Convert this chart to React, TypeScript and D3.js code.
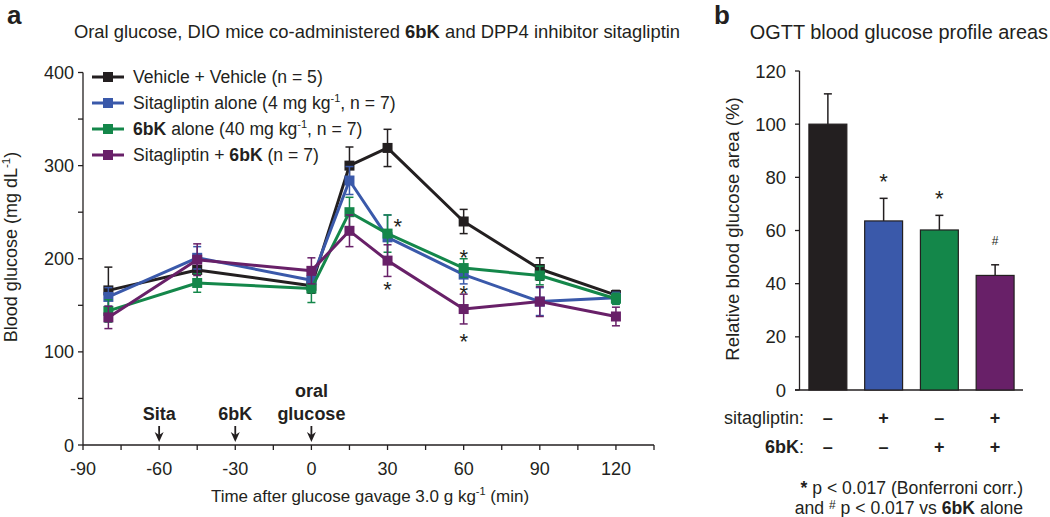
import React from "react";
import * as d3 from "d3";

// ---------- Panel a data ----------
const times = [-80, -45, 0, 15, 30, 60, 90, 120];
const seriesNames = ["Vehicle + Vehicle", "Sitagliptin alone", "6bK alone", "Sitagliptin + 6bK"];
const vehicleMean = [166, 188, 171, 300, 319, 240, 189, 161];
const vehicleErr = [25, 10, 8, 20, 20, 13, 12, 5];
const sitaMean = [159, 201, 177, 284, 223, 183, 154, 158];
const sitaErr = [10, 12, 10, 15, 24, 10, 15, 6];
const bkMean = [144, 174, 168, 250, 227, 190, 182, 157];
const bkErr = [12, 10, 15, 16, 20, 10, 10, 6];
const comboMean = [137, 199, 187, 230, 198, 146, 154, 138];
const comboErr = [12, 17, 14, 17, 17, 16, 16, 10];
const seriesColors = ["#231f20", "#3a59aa", "#14874a", "#682068"];
const yTicksA = [0, 100, 200, 300, 400];
const xTicksA = [-90, -60, -30, 0, 30, 60, 90, 120];

// asterisks (time, value position)
const starsA: [number, number][] = [
  [34, 240],
  [30, 172],
  [60, 207],
  [60, 168],
  [60, 116],
];

// ---------- Panel b data ----------
const barGroups = ["veh", "sita", "6bK", "combo"];
const barValues = [100, 63.6, 60.2, 43.1];
const barErrors = [11.4, 8.5, 5.5, 4.0];
const barMarks = ["", "*", "*", "#"];
const sitaSigns = ["\u2013", "+", "\u2013", "+"];
const bkSigns = ["\u2013", "\u2013", "+", "+"];
const yTicksB = [0, 20, 40, 60, 80, 100, 120];

const FONT = "'Liberation Sans', Arial, Helvetica, sans-serif";
const INK = "#231f20";

export default function App() {
  const means = [vehicleMean, sitaMean, bkMean, comboMean];
  const errs = [vehicleErr, sitaErr, bkErr, comboErr];

  // panel a scales
  const x = d3.scaleLinear().domain([-90, 135]).range([83, 654]);
  const y = d3.scaleLinear().domain([0, 400]).range([445, 72.5]);
  const line = d3
    .line<number>()
    .x((_, i) => x(times[i]))
    .y((d) => y(d));

  const xMinor = d3.range(-90, 136, 15);
  const yMinor = d3.range(0, 401, 50);

  // panel b scales
  const xb = d3.scaleBand<string>().domain(barGroups).range([800, 1023]).paddingInner(0.32).paddingOuter(0.16);
  const yb = d3.scaleLinear().domain([0, 120]).range([390, 71]);

  const arrows = [
    { t: -60, lines: ["Sita"] },
    { t: -30, lines: ["6bK"] },
    { t: 0, lines: ["oral", "glucose"] },
  ];

  return (
    <svg width={1050} height={517} style={{ position: "absolute", left: 0, top: 0, fontFamily: FONT }}>
      <rect width={1050} height={517} fill="#fff" />
      {/* Panel a */}
      <text x={7} y={24} fontSize={26} fontWeight="bold" fill={INK}>a</text>
      <text x={377} y={38} fontSize={18.4} textAnchor="middle" fill={INK}>
        Oral glucose, DIO mice co-administered <tspan fontWeight="bold">6bK</tspan> and DPP4 inhibitor sitagliptin
      </text>

      {/* y axis */}
      <line x1={83} x2={83} y1={y(400)} y2={y(0)} stroke={INK} strokeWidth={1.3} />
      {yMinor.map((v) => (
        <line key={"ym" + v} x1={78} x2={83} y1={y(v)} y2={y(v)} stroke={INK} strokeWidth={1.3} />
      ))}
      {yTicksA.map((v) => (
        <text key={"yt" + v} x={74} y={y(v) + 6.5} fontSize={18} textAnchor="end" fill={INK}>{v}</text>
      ))}
      <text transform={`translate(17,247) rotate(-90)`} fontSize={18} textAnchor="middle" fill={INK}>
        Blood glucose (mg dL<tspan dy={-7} fontSize={11.5}>-1</tspan><tspan dy={7}>)</tspan>
      </text>

      {/* x axis */}
      <line x1={x(-90)} x2={x(135)} y1={445} y2={445} stroke={INK} strokeWidth={1.3} />
      {xMinor.map((t) => (
        <line key={"xm" + t} x1={x(t)} x2={x(t)} y1={445} y2={450} stroke={INK} strokeWidth={1.3} />
      ))}
      {xTicksA.map((t) => (
        <text key={"xt" + t} x={x(t)} y={475} fontSize={18} textAnchor="middle" fill={INK}>{t}</text>
      ))}
      <text x={370} y={502} fontSize={17} textAnchor="middle" fill={INK}>
        Time after glucose gavage 3.0 g kg<tspan dy={-7} fontSize={11}>-1</tspan><tspan dy={7}> (min)</tspan>
      </text>

      {/* arrows */}
      {arrows.map((a) => {
        const ax = x(a.t);
        return (
          <g key={"ar" + a.t}>
            {a.lines.map((l, i) => (
              <text key={l} x={ax} y={420 - (a.lines.length - 1 - i) * 23} fontSize={18} fontWeight="bold" textAnchor="middle" fill={INK}>{l}</text>
            ))}
            <line x1={ax} x2={ax} y1={426} y2={436} stroke={INK} strokeWidth={1.8} />
            <path d={`M${ax - 4.5},${432} L${ax},${442} L${ax + 4.5},${432} L${ax},${435} Z`} fill={INK} />
          </g>
        );
      })}

      {/* series */}
      {means.map((m, s) => (
        <g key={"s" + s}>
          {m.map((v, i) => (
            <g key={"e" + i} stroke={seriesColors[s]} strokeWidth={1.5}>
              <line x1={x(times[i])} x2={x(times[i])} y1={y(v - errs[s][i])} y2={y(v + errs[s][i])} />
              <line x1={x(times[i]) - 4} x2={x(times[i]) + 4} y1={y(v + errs[s][i])} y2={y(v + errs[s][i])} />
              <line x1={x(times[i]) - 4} x2={x(times[i]) + 4} y1={y(v - errs[s][i])} y2={y(v - errs[s][i])} />
            </g>
          ))}
          <path d={line(m) || ""} fill="none" stroke={seriesColors[s]} strokeWidth={3} strokeLinejoin="round" />
          {m.map((v, i) => (
            <rect key={"p" + i} x={x(times[i]) - 5} y={y(v) - 5} width={10} height={10} fill={seriesColors[s]} />
          ))}
        </g>
      ))}

      {starsA.map(([t, v], i) => (
        <text key={"st" + i} x={x(t)} y={y(v) + 12.5} fontSize={22} textAnchor="middle" fill={INK}>*</text>
      ))}

      {/* legend */}
      {seriesNames.map((n, i) => {
        const ly = 77 + i * 26;
        return (
          <g key={"lg" + i}>
            <line x1={92} x2={124} y1={ly} y2={ly} stroke={seriesColors[i]} strokeWidth={3} />
            <rect x={103} y={ly - 5} width={10} height={10} fill={seriesColors[i]} />
            <text x={133} y={ly + 6} fontSize={17.6} fill={INK}>
              {i === 0 && <>Vehicle + Vehicle (n = 5)</>}
              {i === 1 && (
                <>Sitagliptin alone (4 mg kg<tspan dy={-7} fontSize={11}>-1</tspan><tspan dy={7}>, n = 7)</tspan></>
              )}
              {i === 2 && (
                <><tspan fontWeight="bold">6bK</tspan> alone (40 mg kg<tspan dy={-7} fontSize={11}>-1</tspan><tspan dy={7}>, n = 7)</tspan></>
              )}
              {i === 3 && (
                <>Sitagliptin + <tspan fontWeight="bold">6bK</tspan> (n = 7)</>
              )}
            </text>
          </g>
        );
      })}

      {/* Panel b */}
      <text x={714} y={24} fontSize={26} fontWeight="bold" fill={INK}>b</text>
      <text x={1048} y={39} fontSize={19.9} textAnchor="end" fill={INK}>OGTT blood glucose profile areas</text>

      <line x1={799.5} x2={799.5} y1={yb(120)} y2={yb(0)} stroke={INK} strokeWidth={1.3} />
      <line x1={795} x2={1023} y1={yb(0)} y2={yb(0)} stroke={INK} strokeWidth={1.3} />
      {yTicksB.map((v) => (
        <g key={"yb" + v}>
          <line x1={795} x2={799.5} y1={yb(v)} y2={yb(v)} stroke={INK} strokeWidth={1.3} />
          <text x={786} y={yb(v) + 6.5} fontSize={18.5} textAnchor="end" fill={INK}>{v}</text>
        </g>
      ))}
      <text transform={`translate(739,229) rotate(-90)`} fontSize={18.6} textAnchor="middle" fill={INK}>
        Relative blood glucose area (%)
      </text>

      {barGroups.map((g, i) => {
        const bx = xb(g)!;
        const bw = xb.bandwidth();
        const cx = bx + bw / 2;
        const top = yb(barValues[i] + barErrors[i]);
        return (
          <g key={"bar" + g}>
            <line x1={cx} x2={cx} y1={yb(barValues[i])} y2={top} stroke={INK} strokeWidth={1.5} />
            <line x1={cx - 4} x2={cx + 4} y1={top} y2={top} stroke={INK} strokeWidth={1.5} />
            <rect x={bx} y={yb(barValues[i])} width={bw} height={yb(0) - yb(barValues[i])} fill={seriesColors[i]} stroke={INK} strokeWidth={1.2} />
            {barMarks[i] === "*" && (
              <text x={cx} y={top - 9.5} fontSize={22} textAnchor="middle" fill={INK}>*</text>
            )}
            {barMarks[i] === "#" && (
              <text x={cx} y={top - 20} fontSize={12} textAnchor="middle" fill={INK}>#</text>
            )}
            <text x={cx} y={424} fontSize={18} fontWeight="bold" textAnchor="middle" fill={INK}>{sitaSigns[i]}</text>
            <text x={cx} y={453} fontSize={18} fontWeight="bold" textAnchor="middle" fill={INK}>{bkSigns[i]}</text>
          </g>
        );
      })}
      <text x={804} y={424} fontSize={18} textAnchor="end" fill={INK}>sitagliptin:</text>
      <text x={804} y={453} fontSize={18} textAnchor="end" fill={INK}><tspan fontWeight="bold">6bK</tspan>:</text>

      <text x={1023} y={494} fontSize={17.6} textAnchor="end" fill={INK}>
        <tspan fontWeight="bold">*</tspan> p &lt; 0.017 (Bonferroni corr.)
      </text>
      <text x={1023} y={514} fontSize={17.6} textAnchor="end" fill={INK}>
        and <tspan fontSize={12} dy={-5}>#</tspan><tspan dy={5}> p &lt; 0.017 vs </tspan><tspan fontWeight="bold">6bK</tspan> alone
      </text>
    </svg>
  );
}
